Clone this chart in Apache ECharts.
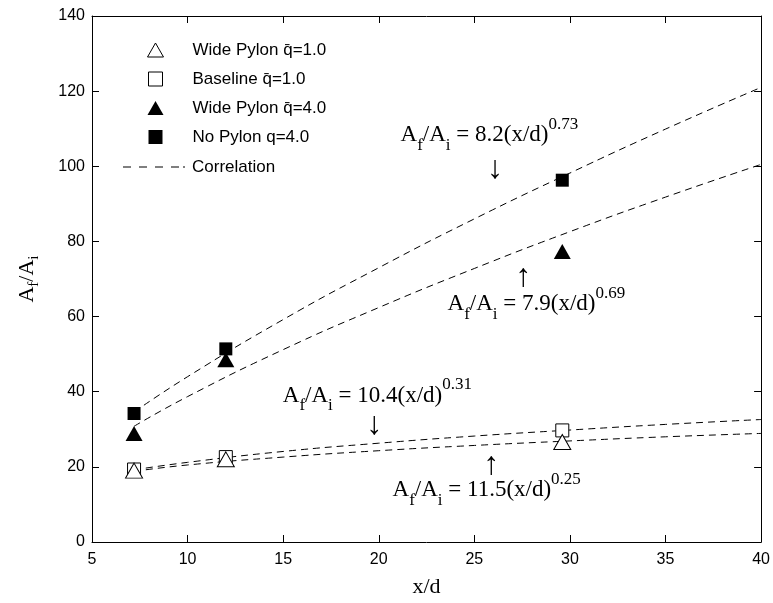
<!DOCTYPE html>
<html><head><meta charset="utf-8">
<script src="https://cdn.jsdelivr.net/npm/echarts@6/dist/echarts.min.js"></script>
<style>html,body{margin:0;padding:0;background:#fff}#c{width:773px;height:603px}</style>
</head><body><div id="c"></div>
<script>
// ---- data ----
const xObs = [7.2, 12.0, 29.6];
const widePylonQ1 = [19.0, 22.0, 26.6];
const baselineQ1 = [19.3, 22.6, 29.7];
const widePylonQ4 = [28.9, 48.5, 77.3];
const noPylonQ4 = [34.2, 51.4, 96.3];

const xCorr = [7.2, 10, 15, 20, 25, 30, 35, 40];
const corrNoPylonQ4 = [34.6, 44.0, 59.2, 73.0, 86.0, 98.2, 109.9, 121.0];
const corrWidePylonQ4 = [30.8, 38.7, 51.2, 62.4, 72.8, 82.6, 91.8, 100.5];
const corrBaselineQ1 = [19.2, 21.2, 24.1, 26.3, 28.2, 29.8, 31.3, 32.6];
const corrWidePylonQ1 = [18.8, 20.5, 22.6, 24.3, 25.7, 26.9, 28.0, 28.9];

const seriesNames = ['Wide Pylon q\u0304=1.0', 'Baseline q\u0304=1.0', 'Wide Pylon q\u0304=4.0', 'No Pylon q=4.0', 'Correlation'];
const xRange = [5, 40, 5];
const yRange = [0, 140, 20];

const annCoef = ['8.2', '7.9', '10.4', '11.5'];
const annExp = ['0.73', '0.69', '0.31', '0.25'];
const annTextAt = [[21.14, 106.3], [23.6, 61.25], [14.98, 36.86], [20.72, 11.67]];
const annArrow = ['\u2193', '\u2191', '\u2193', '\u2191'];
const annArrowAt = [[26.1, 99.2], [27.57, 70.3], [19.78, 31.0], [25.9, 20.4]];

// ---- chart ----
const chart = echarts.init(document.getElementById('c'), null, {renderer: 'canvas'});
const pair = (xs, ys) => xs.map((x, i) => [x, ys[i]]);
const SANS = 'Liberation Sans', SERIF = 'Liberation Serif';
const axisCommon = {
  type: 'value', splitLine: {show: false},
  axisLine: {show: true, onZero: false, lineStyle: {color: '#000', width: 1}},
  axisTick: {show: true, inside: true, length: 7, lineStyle: {color: '#000', width: 1}}
};
const dashIcon = 'path://M0,0h8v1.2h-8z M16,0h8v1.2h-8z M32,0h8v1.2h-8z M48,0h8v1.2h-8z M60,0h2v1.2h-2z';
const sqIcon = 'path://M0,0h10v10h-10z';

const openStyle = {color: '#fff', borderColor: '#000', borderWidth: 1, opacity: 1};
const fillStyle = {color: '#000', borderColor: '#000', borderWidth: 0, opacity: 1};

const lineSeries = (ys) => ({
  type: 'line', name: seriesNames[4], data: pair(xCorr, ys), smooth: true, symbol: 'none',
  color: '#000', lineStyle: {color: '#000', width: 1, type: [7, 5]}, z: 2, silent: true
});

const option = {
  animation: false,
  backgroundColor: '#fff',
  grid: {left: 92, right: 11, top: 16, bottom: 59, containLabel: false},
  xAxis: [
    Object.assign({}, axisCommon, {min: xRange[0], max: xRange[1], interval: xRange[2], position: 'bottom',
      axisLabel: {color: '#000', fontFamily: SANS, fontSize: 16, margin: 10},
      name: 'x/d', nameLocation: 'middle', nameGap: 34,
      nameTextStyle: {fontFamily: SERIF, fontSize: 22, color: '#000'}}),
    Object.assign({}, axisCommon, {min: xRange[0], max: xRange[1], interval: xRange[2], position: 'top',
      axisLabel: {show: false}})
  ],
  yAxis: [
    Object.assign({}, axisCommon, {min: yRange[0], max: yRange[1], interval: yRange[2], position: 'left',
      axisLabel: {color: '#000', fontFamily: SANS, fontSize: 16, margin: 7},
      name: '{m|A}{s|f}{m|/A}{s|i}', nameLocation: 'middle', nameGap: 50,
      nameTextStyle: {color: '#000', rich: {
        m: {fontFamily: SERIF, fontSize: 22, lineHeight: 30, verticalAlign: 'middle', color: '#000'},
        s: {fontFamily: SERIF, fontSize: 15, lineHeight: 15, verticalAlign: 'bottom', color: '#000'}}}}),
    Object.assign({}, axisCommon, {min: yRange[0], max: yRange[1], interval: yRange[2], position: 'right',
      axisLabel: {show: false}})
  ],
  legend: [
    {
      orient: 'vertical', left: 142, top: 36.5, itemWidth: 16, itemHeight: 14, itemGap: 12,
      selectedMode: false, formatter: '{sp|}{name}',
      textStyle: {fontFamily: SANS, fontSize: 17, lineHeight: 17, color: '#000', rich: {sp: {width: 24}}},
      data: [
        {name: seriesNames[0], icon: 'triangle', itemStyle: openStyle},
        {name: seriesNames[1], icon: sqIcon, itemStyle: openStyle},
        {name: seriesNames[2], icon: 'triangle', itemStyle: fillStyle},
        {name: seriesNames[3], icon: sqIcon, itemStyle: fillStyle}
      ]
    },
    {
      orient: 'vertical', left: 118, top: 153.5, itemWidth: 62, itemHeight: 14,
      selectedMode: false, formatter: '{sp|}{name}',
      textStyle: {fontFamily: SANS, fontSize: 17, lineHeight: 17, color: '#000', rich: {sp: {width: 2}}},
      data: [{name: seriesNames[4], icon: dashIcon, itemStyle: {color: '#000', borderWidth: 0}}]
    }
  ],
  series: [
    lineSeries(corrNoPylonQ4),
    lineSeries(corrWidePylonQ4),
    lineSeries(corrBaselineQ1),
    lineSeries(corrWidePylonQ1),
    {type: 'scatter', name: seriesNames[0], data: pair(xObs, widePylonQ1), symbol: 'triangle', symbolSize: [17, 15], itemStyle: openStyle, z: 5},
    {type: 'scatter', name: seriesNames[1], data: pair(xObs, baselineQ1), symbol: 'rect', symbolSize: 13, itemStyle: openStyle, z: 4},
    {type: 'scatter', name: seriesNames[2], data: pair(xObs, widePylonQ4), symbol: 'triangle', symbolSize: [17, 15], itemStyle: fillStyle, z: 5},
    {type: 'scatter', name: seriesNames[3], data: pair(xObs, noPylonQ4), symbol: 'rect', symbolSize: 13, itemStyle: fillStyle, z: 5}
  ]
};
chart.setOption(option);

// ---- annotations placed through the axes ----
const rich = {
  m: {fontFamily: SERIF, fontSize: 23, lineHeight: 38, verticalAlign: 'middle', fill: '#000'},
  s: {fontFamily: SERIF, fontSize: 17, lineHeight: 17, verticalAlign: 'bottom', fill: '#000'},
  p: {fontFamily: SERIF, fontSize: 17, lineHeight: 17, verticalAlign: 'top', fill: '#000'}
};
const graphics = [];
annCoef.forEach((c, i) => {
  const p = chart.convertToPixel({gridIndex: 0}, annTextAt[i]);
  graphics.push({
    type: 'text', x: p[0], y: p[1] - 27, z: 10,
    style: {text: '{m|A}{s|f}{m|/A}{s|i}{m| = ' + c + '(x/d)}{p|' + annExp[i] + '}', rich: rich,
      align: 'left', verticalAlign: 'top', fill: '#000'}
  });
  const q = chart.convertToPixel({gridIndex: 0}, annArrowAt[i]);
  graphics.push({
    type: 'text', x: q[0], y: q[1], z: 10,
    style: {text: annArrow[i], fontFamily: SERIF, fontSize: 32, fill: '#000', align: 'center', verticalAlign: 'middle'}
  });
});
chart.setOption({graphic: graphics});
</script></body></html>
